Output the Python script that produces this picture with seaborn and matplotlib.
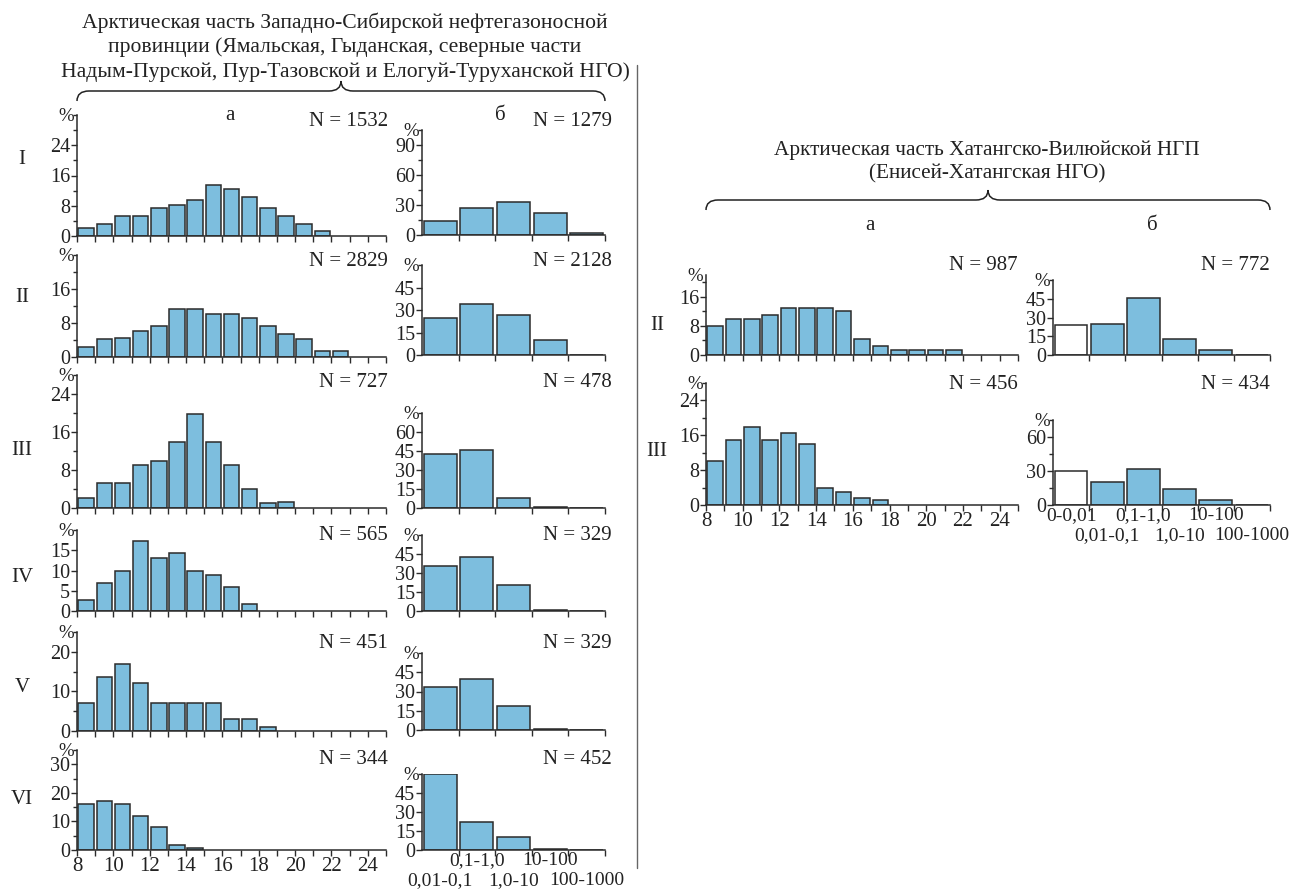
import matplotlib
matplotlib.use("Agg")
import matplotlib.pyplot as plt
from matplotlib.lines import Line2D
from matplotlib.path import Path
from matplotlib.patches import PathPatch
import numpy as np
import seaborn as sns

W, H = 1303, 891

# sorting classes, fraction %  (a - grain size classes from 8, б - permeability classes)
size_start = 8
perm_bins_left = ["0,01-0,1", "0,1-1,0", "1,0-10", "10-100", "100-1000"]
perm_bins_right = ["0-0,01", "0,01-0,1", "0,1-1,0", "1,0-10", "10-100", "100-1000"]

a_I = [2.2, 3.3, 5.3, 5.4, 7.5, 8.3, 9.6, 13.4, 12.3, 10.4, 7.3, 5.4, 3.2, 1.3]
b_I = [14, 27, 33, 22, 2]
a_II = [2.3, 4.2, 4.5, 6.2, 7.3, 11.2, 11.2, 10.2, 10.2, 9.2, 7.2, 5.3, 4.2, 1.4, 1.4]
b_II = [25, 34, 27, 10, 0]
a_III = [2.2, 5.2, 5.2, 9.0, 9.9, 13.8, 19.7, 13.8, 9.0, 4.0, 1.0, 1.2]
b_III = [42.5, 46, 7.5, 1, 0]
a_IV = [2.8, 7, 10, 17.3, 13, 14.2, 10, 9, 6, 1.8]
b_IV = [35.5, 43, 20.5, 1, 0]
a_V = [7, 13.7, 17, 12, 7, 7, 7, 7, 3, 3, 1]
b_V = [33.5, 40, 19, 0.5, 0]
a_VI = [16, 17.3, 16, 12, 8, 1.8, 0.6]
b_VI = [60, 22.5, 10.5, 0.5, 0]

ra_II = [8, 10, 10, 11, 13, 13, 13, 12, 4.5, 2.5, 1.3, 1.3, 1.3, 1.3]
rb_II = [24, 25, 46, 13, 4, 0]
ra_III = [10, 15, 18, 15, 16.5, 14, 4, 3, 1.7, 1.2]
rb_III = [30, 20, 32, 14, 4, 0]

n_left = [1532, 2829, 727, 565, 451, 344]
n_left_b = [1279, 2128, 478, 329, 329, 452]
n_right = [987, 456]
n_right_b = [772, 434]

BLUE = "#6DC3EE"
EDGE = "#2b2b2b"
INK = "#222222"

sns.set_style("ticks")
plt.rcParams["font.family"] = ["Liberation Serif", "DejaVu Serif"]
plt.rcParams["axes.linewidth"] = 1.1
plt.rcParams["axes.edgecolor"] = EDGE

fig = plt.figure(figsize=(W / 100, H / 100), dpi=100)


def px_axes(l, r, b, t):
    return fig.add_axes([l / W, 1 - b / H, (r - l) / W, (b - t) / H])


def ftext(x, y, s, **kw):
    kw.setdefault("fontsize", 15)
    kw.setdefault("color", INK)
    fig.text(x / W, 1 - y / H, s, **kw)


def style(ax, ytop, ylab, yminor):
    ax.set_ylim(0, ytop)
    ax.set_yticks(ylab)
    ax.set_yticks(yminor, minor=True)
    ax.set_xlabel("")
    ax.set_ylabel("")
    sns.despine(ax=ax)
    ax.tick_params(axis="both", which="both", direction="out", width=1,
                   color=EDGE, labelsize=14.5, pad=1, labelcolor=INK)
    ax.tick_params(axis="both", which="major", length=4)
    ax.tick_params(axis="y", which="minor", length=3)
    ax.annotate("%", xy=(0, 1), xycoords="axes fraction", xytext=(-2, -1),
                textcoords="offset points", ha="right", va="center",
                fontsize=13.5, color=INK)


def size_panel(ax, vals, ytop, ylab, yminor, labels):
    x = size_start + 0.5 + np.arange(len(vals))
    sns.barplot(x=x, y=vals, native_scale=True, width=0.85, color=BLUE,
                edgecolor=EDGE, linewidth=1.1, errorbar=None, ax=ax)
    ax.set_xlim(8, 25)
    ax.set_xticks(np.arange(8, 25, 2))
    ax.set_xticks(np.arange(9, 26, 2), minor=True)
    style(ax, ytop, ylab, yminor)
    ax.tick_params(axis="x", which="minor", length=4)
    ax.tick_params(axis="x", labelbottom=labels, labelsize=15)


def perm_panel(ax, vals, bins, ytop, ylab, yminor, labels, first_white=False):
    x = 0.5 + np.arange(len(vals))
    pal = {b: BLUE for b in bins}
    if first_white:
        pal[bins[0]] = "white"
    sns.barplot(x=x, y=vals, hue=bins, palette=pal, legend=False,
                native_scale=True, width=0.9, edgecolor=EDGE, linewidth=1.1,
                errorbar=None, ax=ax)
    ax.set_xlim(0, len(vals))
    ax.set_xticks(np.arange(1, len(vals) + 1))
    style(ax, ytop, ylab, yminor)
    ax.tick_params(axis="x", which="major", labelbottom=False)
    if labels:
        tr = ax.get_xaxis_transform()
        for i, b in enumerate(bins):
            lower = (i % 2 == 0) if not first_white else (i % 2 == 1)
            ax.annotate(b, xy=(x[i], 0), xycoords=tr,
                        xytext=(0, -16 if lower else -1.5),
                        textcoords="offset points", ha="center", va="top",
                        fontsize=14, color=INK)


# left block: rows I-VI
rows = [
    # a values, a bottom, a top, ytop, labels, minor, then the same for б
    (a_I, 236, 115, 32, [0, 8, 16, 24], [4, 12, 20, 28, 32],
     b_I, 235, 130, 105, [0, 30, 60, 90], [15, 45, 75, 105]),
    (a_II, 357, 255, 24, [0, 8, 16], [4, 12, 20, 24],
     b_II, 355, 265, 60, [0, 15, 30, 45], [60]),
    (a_III, 508, 375, 28, [0, 8, 16, 24], [4, 12, 20, 28],
     b_III, 508, 413, 75, [0, 15, 30, 45, 60], [75]),
    (a_IV, 611, 530, 20, [0, 5, 10, 15], [20],
     b_IV, 611, 535, 60, [0, 15, 30, 45], [60]),
    (a_V, 731, 632, 25, [0, 10, 20], [5, 15, 25],
     b_V, 730, 653, 60, [0, 15, 30, 45], [60]),
    (a_VI, 850, 750, 35, [0, 10, 20, 30], [5, 15, 25, 35],
     b_VI, 850, 774, 60, [0, 15, 30, 45], [60]),
]
row_y = [122, 262, 383, 535, 643, 760]
roman = ["I", "II", "III", "IV", "V", "VI"]
roman_y = [160, 298, 450, 578, 688, 800]

for i, r in enumerate(rows):
    av, ab, at, ayt, ayl, aym, bv, bb, bt, byt, byl, bym = r
    last = i == len(rows) - 1
    ax = px_axes(77, 386, ab, at)
    size_panel(ax, av, ayt, ayl, aym, last)
    bx = px_axes(422, 605, bb, bt)
    perm_panel(bx, bv, perm_bins_left, byt, byl, bym, last)
    ftext(388, row_y[i], f"N = {n_left[i]}", ha="right", va="center")
    ftext(612, row_y[i], f"N = {n_left_b[i]}", ha="right", va="center")
    ftext(22, roman_y[i], roman[i], ha="center", va="center")

ftext(230, 115, "а", ha="center", va="center")
ftext(500, 115, "б", ha="center", va="center")

# right block: rows II, III
ax = px_axes(706, 1018, 355, 275)
size_panel(ax, ra_II, 22, [0, 8, 16], [4, 12, 20], False)
bx = px_axes(1053, 1270, 355, 280)
perm_panel(bx, rb_II, perm_bins_right, 60, [0, 15, 30, 45], [60], False, True)
ax = px_axes(706, 1018, 505, 383)
size_panel(ax, ra_III, 28, [0, 8, 16, 24], [4, 12, 20, 28], True)
bx = px_axes(1053, 1270, 505, 420)
perm_panel(bx, rb_III, perm_bins_right, 75, [0, 30, 60], [15, 45, 75], True, True)

for j, y in enumerate([265, 385]):
    ftext(1018, y, f"N = {n_right[j]}", ha="right", va="center")
    ftext(1270, y, f"N = {n_right_b[j]}", ha="right", va="center")
ftext(657, 325, "II", ha="center", va="center")
ftext(657, 452, "III", ha="center", va="center")
ftext(870, 225, "а", ha="center", va="center")
ftext(1152, 225, "б", ha="center", va="center")

# titles
ftext(345, 47, "Арктическая часть Западно-Сибирской нефтегазоносной\n"
      "провинции (Ямальская, Гыданская, северные части\n"
      "Надым-Пурской, Пур-Тазовской и Елогуй-Туруханской НГО)",
      ha="center", va="center", linespacing=1.32, fontsize=15.6)
ftext(987, 162, "Арктическая часть Хатангско-Вилюйской НГП\n"
      "(Енисей-Хатангская НГО)", ha="center", va="center", linespacing=1.3,
      fontsize=15.3)


def brace(x0, x1, y_end, y_line, y_tip, r=12):
    xm = (x0 + x1) / 2
    pts = [(x0, y_end), (x0, y_line), (x0 + r, y_line), (xm - r, y_line),
           (xm, y_line), (xm, y_tip),
           (x1, y_end), (x1, y_line), (x1 - r, y_line), (xm + r, y_line),
           (xm, y_line), (xm, y_tip)]
    codes = [Path.MOVETO, Path.CURVE3, Path.CURVE3, Path.LINETO, Path.CURVE3, Path.CURVE3] * 2
    verts = [(x / W, 1 - y / H) for x, y in pts]
    fig.add_artist(PathPatch(Path(verts, codes), transform=fig.transFigure,
                             fill=False, lw=1.1, color=INK))


brace(77, 605, 101, 91, 81)
brace(706, 1270, 210, 200, 190)

fig.add_artist(Line2D([637 / W] * 2, [1 - 65 / H, 1 - 868 / H], color="#666666", lw=1))

fig.savefig("out.png", dpi=100)
